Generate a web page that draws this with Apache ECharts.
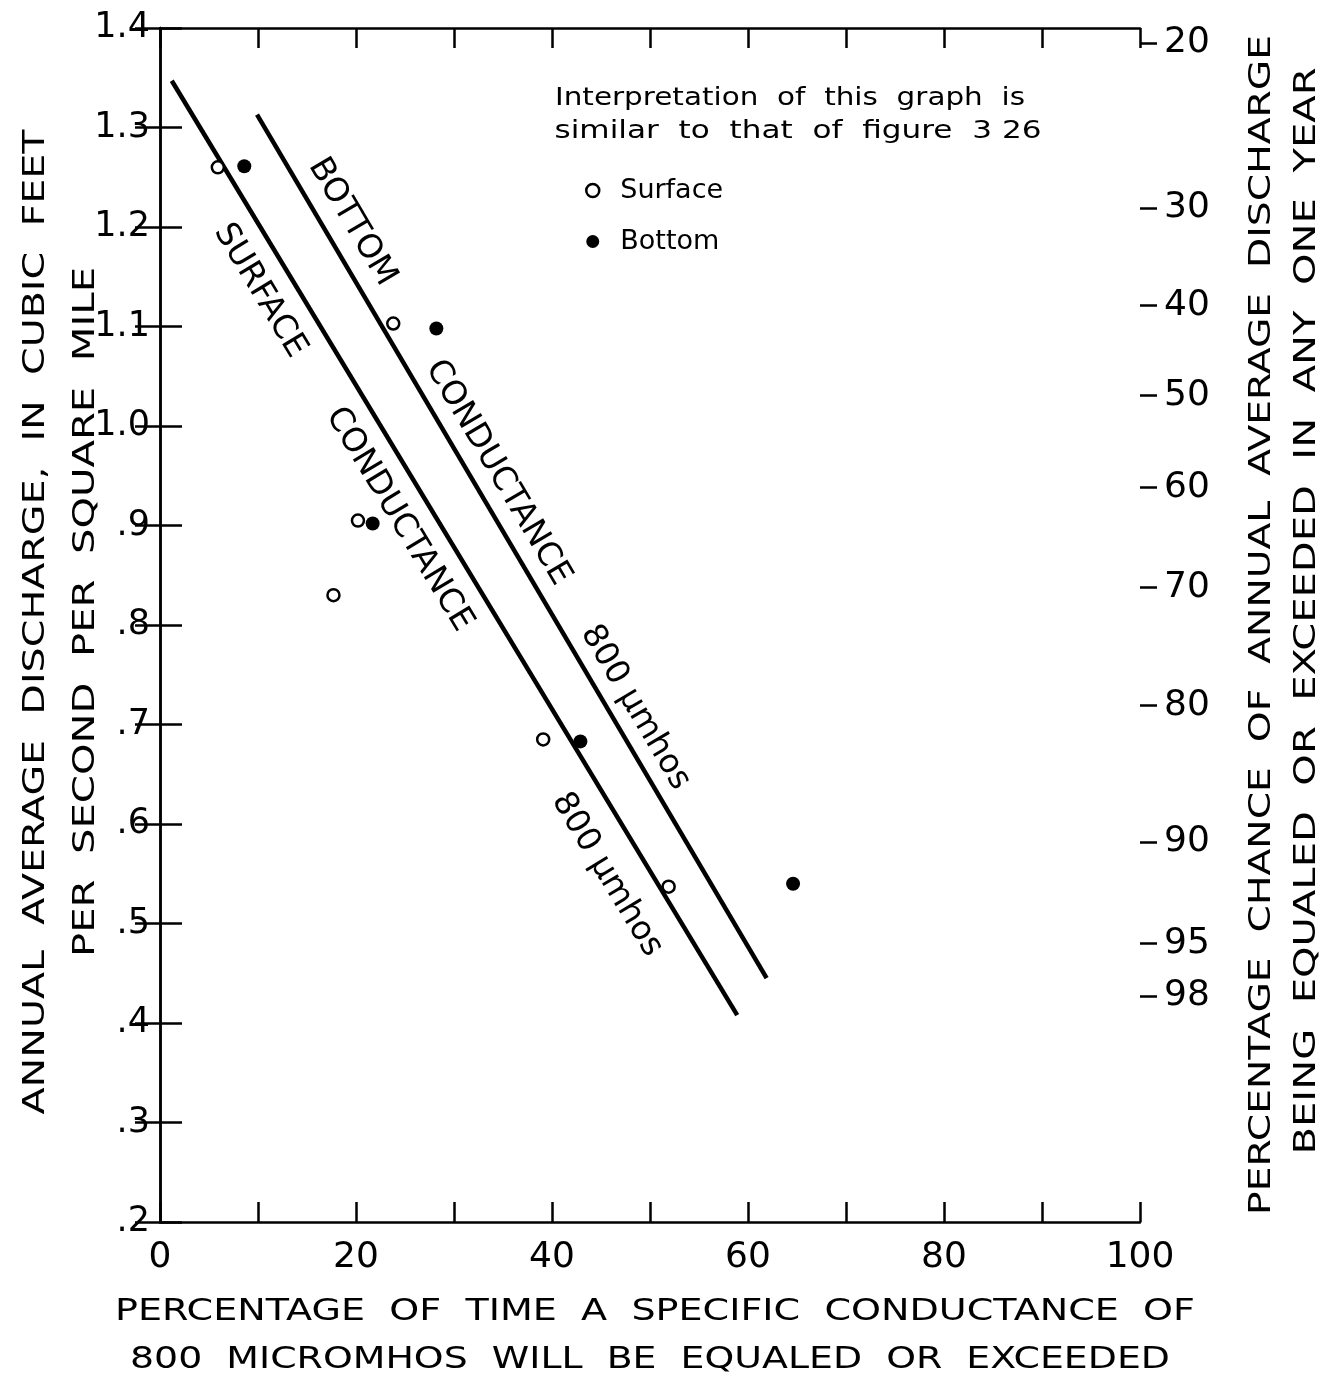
<!DOCTYPE html>
<html>
<head>
<meta charset="utf-8">
<script src="https://cdn.jsdelivr.net/npm/echarts@6/dist/echarts.min.js"></script>
<style>
html,body{margin:0;padding:0;background:#fff;}
#chart{width:1329px;height:1379px;}
</style>
</head>
<body>
<div id="chart"></div>
<script>
// percentage of time 800 micromhos is equaled/exceeded  vs  annual average discharge
var surfacePoints = [[5.9, 1.260], [23.8, 1.103], [20.2, 0.905], [17.7, 0.830], [39.1, 0.685], [51.9, 0.537]];
var bottomPoints = [[8.6, 1.261], [28.2, 1.098], [21.7, 0.902], [42.9, 0.683], [64.6, 0.540]];
var surfaceLine = [[1.2, 1.347], [58.9, 0.408]];
var bottomLine = [[9.9, 1.313], [61.9, 0.445]];

// right hand probability scale (percent chance, discharge where it sits)
var chanceLabels = [20, 30, 40, 50, 60, 70, 80, 90, 95, 98];
var chanceAt = [1.385, 1.219, 1.121, 1.031, 0.938, 0.838, 0.719, 0.582, 0.480, 0.427];

var xTickLabels = [0, 20, 40, 60, 80, 100];
var yTickLabels = ['.2', '.3', '.4', '.5', '.6', '.7', '.8', '.9', '1.0', '1.1', '1.2', '1.3', '1.4'];

var FONT = 'DejaVu Sans';
var ink = '#000';

var myChart = echarts.init(document.getElementById('chart'));

// the lettering on the original is spaced out, so stretch each title to its span
var measureCtx = document.createElement('canvas').getContext('2d');
function stretched(txt, size, cx, cy, span, rot) {
  measureCtx.font = size + 'px "' + FONT + '"';
  var w = measureCtx.measureText(txt).width;
  return {
    type: 'text', x: cx, y: cy, rotation: rot || 0, scaleX: span / w, silent: true,
    style: { text: txt, fontSize: size, fontFamily: FONT, fill: ink, align: 'center', verticalAlign: 'middle' }
  };
}

function rotNote(txt, pt, ang) {
  return { value: pt, label: { formatter: txt, rotate: ang } };
}

var option = {
  backgroundColor: '#fff',
  animation: false,
  textStyle: { fontFamily: FONT, color: ink },
  graphic: [
    stretched('PERCENTAGE  OF  TIME  A  SPECIFIC  CONDUCTANCE  OF', 30, 655, 1312, 1080),
    stretched('800  MICROMHOS  WILL  BE  EQUALED  OR  EXCEEDED', 30, 650, 1360, 1040),
    stretched('ANNUAL  AVERAGE  DISCHARGE,  IN  CUBIC  FEET', 30, 36, 622, 985, Math.PI / 2),
    stretched('PER  SECOND  PER  SQUARE  MILE', 30, 86, 612, 690, Math.PI / 2),
    stretched('PERCENTAGE  CHANCE  OF  ANNUAL  AVERAGE  DISCHARGE', 30, 1262, 625, 1180, Math.PI / 2),
    stretched('BEING  EQUALED  OR  EXCEEDED  IN  ANY  ONE  YEAR', 30, 1307, 611, 1087, Math.PI / 2),
    stretched('Interpretation  of  this  graph  is', 25, 790, 98, 470),
    stretched('similar  to  that  of  figure  3 26', 25, 798, 131, 487)
  ],
  legend: {
    orient: 'vertical',
    left: 580, top: 172,
    itemGap: 24,
    itemWidth: 13, itemHeight: 13,
    textStyle: { fontFamily: FONT, fontSize: 27, color: ink, padding: [0, 0, 0, 16] },
    data: [
      { name: 'Surface', icon: 'circle', itemStyle: { color: '#fff', borderColor: ink, borderWidth: 2.5 } },
      { name: 'Bottom', icon: 'circle', itemStyle: { color: ink } }
    ]
  },
  grid: { left: 160, right: 189, top: 28, bottom: 157, containLabel: false, outerBoundsMode: 'none' },
  xAxis: [{
    type: 'value', min: 0, max: 100, interval: 10, position: 'bottom',
    axisLine: { lineStyle: { color: ink, width: 2.5 } },
    axisTick: { inside: true, length: 20, lineStyle: { color: ink, width: 2.5 } },
    axisLabel: { customValues: xTickLabels, fontFamily: FONT, fontSize: 36, color: ink, margin: 18 },
    splitLine: { show: false }
  }, {
    type: 'value', min: 0, max: 100, interval: 10, position: 'top',
    axisLine: { lineStyle: { color: ink, width: 2.5 } },
    axisTick: { inside: true, length: 20, lineStyle: { color: ink, width: 2.5 } },
    axisLabel: { show: false },
    splitLine: { show: false }
  }],
  yAxis: [{
    type: 'value', min: 0.2, max: 1.4, interval: 0.1, position: 'left',
    axisLine: { lineStyle: { color: ink, width: 2.5 } },
    axisTick: { inside: true, length: 22, lineStyle: { color: ink, width: 2.5 } },
    axisLabel: {
      fontFamily: FONT, fontSize: 35, color: ink, margin: 10,
      formatter: function (v) { return yTickLabels[Math.round((v - 0.2) / 0.1)]; }
    },
    splitLine: { show: false }
  }, {
    type: 'value', min: 0.2, max: 1.4, interval: 0.1, position: 'right',
    axisLine: { lineStyle: { color: ink, width: 2.5 } },
    axisTick: { inside: true, length: 25, lineStyle: { color: ink, width: 2.5 } },
    axisLabel: { show: false },
    splitLine: { show: false }
  }, {
    type: 'value', min: 0.2, max: 1.4, position: 'right',
    axisLine: { show: false },
    axisTick: { customValues: chanceAt, length: 17, lineStyle: { color: ink, width: 2.5 } },
    axisLabel: {
      customValues: chanceAt, fontFamily: FONT, fontSize: 36, color: ink, margin: 24,
      formatter: function (v) {
        var best = 0;
        for (var i = 1; i < chanceAt.length; i++) {
          if (Math.abs(chanceAt[i] - v) < Math.abs(chanceAt[best] - v)) best = i;
        }
        return String(chanceLabels[best]);
      }
    },
    splitLine: { show: false }
  }],
  series: [{
    name: 'surface line', type: 'line', data: surfaceLine, symbol: 'none',
    lineStyle: { color: ink, width: 4.5 }, silent: true
  }, {
    name: 'bottom line', type: 'line', data: bottomLine, symbol: 'none',
    lineStyle: { color: ink, width: 4.5 }, silent: true
  }, {
    name: 'Surface', type: 'scatter', data: surfacePoints, symbol: 'circle', symbolSize: 12,
    itemStyle: { color: '#fff', borderColor: ink, borderWidth: 2.5, opacity: 1 }, z: 5
  }, {
    name: 'Bottom', type: 'scatter', data: bottomPoints, symbol: 'circle', symbolSize: 14,
    itemStyle: { color: ink, opacity: 1 }, z: 5
  }, {
    // lettering written along the two curves
    name: 'notes', type: 'scatter', symbolSize: 0, silent: true,
    itemStyle: { opacity: 1 },
    label: {
      show: true, position: 'inside', fontFamily: FONT, fontSize: 33, color: ink,
      textBorderWidth: 0, align: 'center', verticalAlign: 'middle'
    },
    data: [
      rotNote('BOTTOM', [19.6, 1.205], -59.4),
      rotNote('CONDUCTANCE', [34.5, 0.953], -59.4),
      rotNote('800 µmhos', [48.5, 0.717], -59.4),
      rotNote('SURFACE', [10.2, 1.136], -58.9),
      rotNote('CONDUCTANCE', [24.4, 0.906], -58.9),
      rotNote('800 µmhos', [45.6, 0.549], -58.9)
    ]
  }]
};
myChart.setOption(option);
</script>
</body>
</html>
